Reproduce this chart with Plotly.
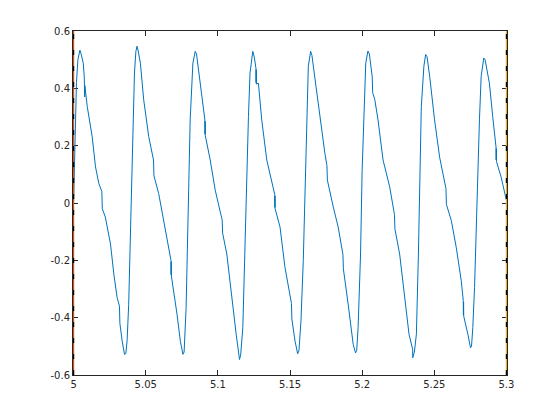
import plotly.graph_objects as go

# Signal samples (time in s, amplitude)
time = [
    5.0000, 5.0005, 5.0010, 5.0020, 5.0030, 5.0044, 5.0052, 5.0067, 5.0074, 5.0075,
    5.0076, 5.0077, 5.0078, 5.0095,
    5.0129, 5.0152, 5.0175, 5.0196, 5.0197, 5.0198, 5.0199, 5.0220, 5.0244, 5.0256,
    5.0279, 5.0302, 5.0318, 5.0319, 5.0320, 5.0321,
    5.0337, 5.0353, 5.0362, 5.0371, 5.0382, 5.0394, 5.0401, 5.0410, 5.0422, 5.0432,
    5.0440, 5.0448, 5.0463, 5.0486, 5.0521, 5.0554, 5.0555, 5.0556, 5.0557, 5.0590,
    5.0625, 5.0648, 5.0675, 5.0676, 5.0677, 5.0678,
    5.0717, 5.0740, 5.0758, 5.0766, 5.0780, 5.0792, 5.0801, 5.0808, 5.0827, 5.0843,
    5.0852, 5.0878, 5.0910, 5.0911, 5.0912, 5.0913, 5.0947, 5.0982, 5.1030, 5.1031,
    5.1032, 5.1033, 5.1062, 5.1097, 5.1127, 5.1150,
    5.1158, 5.1173, 5.1189, 5.1201, 5.1212, 5.1223, 5.1242, 5.1252, 5.1264, 5.1265,
    5.1266, 5.1267, 5.1281, 5.1304,
    5.1339, 5.1394, 5.1395, 5.1396, 5.1397, 5.1431, 5.1465, 5.1510, 5.1511, 5.1512,
    5.1513, 5.1535, 5.1553, 5.1562, 5.1576, 5.1592,
    5.1604, 5.1615, 5.1627, 5.1643, 5.1652, 5.1680, 5.1707, 5.1742, 5.1756, 5.1757,
    5.1758, 5.1759, 5.1800,
    5.1834, 5.1867, 5.1868, 5.1869, 5.1870, 5.1903, 5.1938, 5.1954, 5.1962, 5.1972,
    5.1989, 5.2000, 5.2014,
    5.2025, 5.2040, 5.2050, 5.2070, 5.2071, 5.2072, 5.2073, 5.2088, 5.2110, 5.2145,
    5.2191, 5.2224, 5.2225, 5.2226, 5.2227, 5.2260, 5.2295,
    5.2325, 5.2350, 5.2351, 5.2352, 5.2353, 5.2362, 5.2376, 5.2390, 5.2399, 5.2410,
    5.2428, 5.2440, 5.2450,
    5.2468, 5.2502, 5.2537, 5.2581, 5.2582, 5.2583, 5.2584, 5.2618, 5.2652, 5.2687,
    5.2701, 5.2702, 5.2703, 5.2704, 5.2733, 5.2751,
    5.2758, 5.2767, 5.2779, 5.2795, 5.2813, 5.2825, 5.2843, 5.2852, 5.2882, 5.2905,
    5.2928, 5.2929, 5.2930, 5.2931, 5.2963, 5.3000,
]
signal = [
    0.000, 0.130, 0.260, 0.420, 0.500, 0.533, 0.520, 0.488, 0.440, 0.380,
    0.435, 0.370, 0.410, 0.336,
    0.231, 0.126, 0.068, 0.040, -0.010, 0.035, -0.020, -0.049, -0.107, -0.143,
    -0.248, -0.330, -0.360, -0.410, -0.365, -0.420,
    -0.482, -0.528, -0.525, -0.480, -0.353, -0.119, 0.056, 0.278, 0.453, 0.530,
    0.547, 0.530, 0.488, 0.360, 0.231, 0.150, 0.100, 0.145, 0.095, 0.033,
    -0.061, -0.119, -0.200, -0.250, -0.205, -0.255,
    -0.388, -0.482, -0.528, -0.520, -0.365, -0.096, 0.044, 0.290, 0.488, 0.529,
    0.520, 0.407, 0.290, 0.240, 0.285, 0.235, 0.150, 0.044, -0.060, -0.100,
    -0.065, -0.105, -0.178, -0.341, -0.458, -0.546,
    -0.530, -0.435, -0.096, 0.056, 0.301, 0.453, 0.529, 0.510, 0.470, 0.420,
    0.465, 0.415, 0.418, 0.290,
    0.150, 0.030, -0.015, 0.025, -0.020, -0.084, -0.224, -0.350, -0.400, -0.355,
    -0.405, -0.482, -0.526, -0.515, -0.411, -0.201,
    0.056, 0.325, 0.477, 0.529, 0.515, 0.407, 0.300, 0.173, 0.130, 0.085,
    0.125, 0.080, -0.014,
    -0.084, -0.180, -0.225, -0.185, -0.230, -0.353, -0.493, -0.523, -0.515, -0.435,
    -0.178, 0.114, 0.336,
    0.488, 0.530, 0.520, 0.440, 0.390, 0.435, 0.385, 0.360, 0.290, 0.150,
    0.056, -0.040, -0.085, -0.045, -0.090, -0.178, -0.318,
    -0.458, -0.510, -0.540, -0.515, -0.535, -0.520, -0.458, -0.178, 0.114, 0.336,
    0.477, 0.518, 0.510,
    0.442, 0.290, 0.160, 0.050, 0.000, 0.045, -0.005, -0.061, -0.154, -0.271,
    -0.340, -0.390, -0.345, -0.395, -0.458, -0.505,
    -0.500, -0.435, -0.295, -0.002, 0.290, 0.442, 0.506, 0.500, 0.418, 0.301,
    0.195, 0.150, 0.190, 0.145, 0.091, 0.009,
]

# Window boundary markers
left_x = [5.0, 5.0]
right_x = [5.3, 5.3]
edge_y = [-0.6, 0.6]

x_ticks = [5, 5.05, 5.1, 5.15, 5.2, 5.25, 5.3]
x_labels = ["5", "5.05", "5.1", "5.15", "5.2", "5.25", "5.3"]
y_ticks = [-0.6, -0.4, -0.2, 0, 0.2, 0.4, 0.6]
y_labels = ["-0.6", "-0.4", "-0.2", "0", "0.2", "0.4", "0.6"]

fig = go.Figure()
fig.add_trace(go.Scatter(x=time, y=signal, mode="lines",
                         line=dict(color="#0072BD", width=1)))
fig.add_trace(go.Scatter(x=left_x, y=edge_y, mode="lines",
                         line=dict(color="#D95319", width=1.2)))
fig.add_trace(go.Scatter(x=right_x, y=edge_y, mode="lines",
                         line=dict(color="#EDB120", width=1.2)))
fig.add_trace(go.Scatter(x=left_x, y=edge_y, mode="lines",
                         line=dict(color="#000000", width=1.2, dash="5px,11px")))
fig.add_trace(go.Scatter(x=right_x, y=edge_y, mode="lines",
                         line=dict(color="#000000", width=1.2, dash="5px,11px")))

axis_common = dict(
    showgrid=False, zeroline=False, showline=True, linecolor="#262626",
    linewidth=1, mirror="ticks", ticks="inside", ticklen=5, tickwidth=1,
    tickcolor="#262626", layer="below traces",
    tickfont=dict(family="DejaVu Sans", size=10, color="#262626"),
)
fig.update_xaxes(range=[4.9996, 5.3004], tickvals=x_ticks, ticktext=x_labels, **axis_common)
fig.update_yaxes(range=[-0.6, 0.6], tickvals=y_ticks, ticktext=y_labels, **axis_common)

fig.update_layout(
    width=553, height=413, showlegend=False,
    plot_bgcolor="white", paper_bgcolor="white",
    margin=dict(l=65, r=54, t=23, b=46),
)
fig.write_html("out.html")
